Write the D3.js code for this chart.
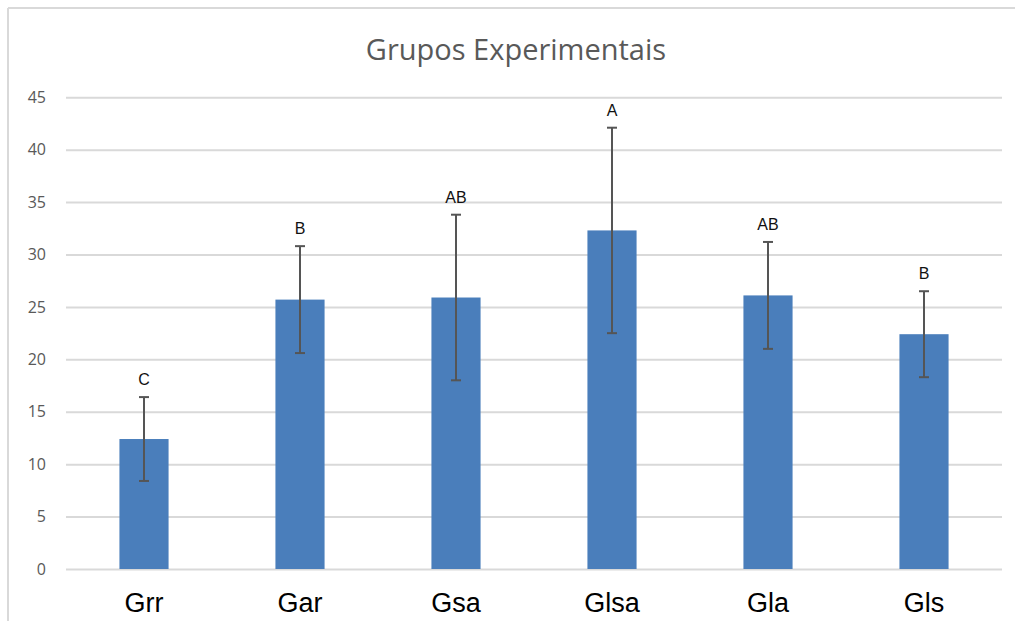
<!DOCTYPE html>
<html><head><meta charset="utf-8">
<script src="https://cdn.jsdelivr.net/npm/d3@7"></script>
<style>body{margin:0;background:#fff}svg{display:block}</style>
</head><body>
<script>
const categories = ["Grr","Gar","Gsa","Glsa","Gla","Gls"];
const means = [12.4, 25.7, 25.9, 32.3, 26.1, 22.4];
const errors = [4.0, 5.1, 7.9, 9.8, 5.1, 4.1];
const letters = ["C","B","AB","A","AB","B"];
const yTicks = [0,5,10,15,20,25,30,35,40,45];
const title = "Grupos Experimentais";

const W = 1015, H = 621;
const svg = d3.select("body").append("svg").attr("width", W).attr("height", H);

// frame
svg.append("line").attr("x1",8).attr("x2",W).attr("y1",8).attr("y2",8).attr("stroke","#d9d9d9").attr("stroke-width",2);
svg.append("line").attr("x1",8).attr("x2",8).attr("y1",8).attr("y2",H).attr("stroke","#d9d9d9").attr("stroke-width",2);

const x = d3.scaleBand().domain(categories).range([66,1002]).paddingInner(0.685).paddingOuter(0.3425);
const y = d3.scaleLinear().domain([0,45]).range([569,97.3]);

svg.append("text").attr("x",516).attr("y",60).attr("text-anchor","middle")
  .attr("font-family","Open Sans").attr("font-size",29).attr("fill","#595959").text(title);

// grid
const yAxis = d3.axisLeft(y).tickValues(yTicks).tickSize(-(1002-66)).tickPadding(20);
const gy = svg.append("g").attr("transform","translate(66,0)").call(yAxis);
gy.select(".domain").remove();
gy.selectAll(".tick line").attr("stroke","#d9d9d9").attr("stroke-width",2);
gy.selectAll(".tick text").attr("font-family","Open Sans").attr("font-size",16).attr("fill","#595959");

// bars
svg.selectAll("rect.bar").data(categories).join("rect").attr("class","bar")
  .attr("x",d=>x(d)).attr("width",x.bandwidth())
  .attr("y",(d,i)=>y(means[i])).attr("height",(d,i)=>y(0)-y(means[i]))
  .attr("fill","#4a7ebb");

// error bars
const eg = svg.append("g").attr("stroke","#555").attr("stroke-width",2);
categories.forEach((c,i)=>{
  const cx = x(c)+x.bandwidth()/2;
  eg.append("line").attr("x1",cx).attr("x2",cx).attr("y1",y(means[i]+errors[i])).attr("y2",y(means[i]-errors[i]));
  eg.append("line").attr("x1",cx-5).attr("x2",cx+5).attr("y1",y(means[i]+errors[i])).attr("y2",y(means[i]+errors[i]));
  eg.append("line").attr("x1",cx-5).attr("x2",cx+5).attr("y1",y(means[i]-errors[i])).attr("y2",y(means[i]-errors[i]));
  svg.append("text").attr("x",cx).attr("y",y(means[i]+errors[i])-12).attr("text-anchor","middle")
    .attr("font-family","Liberation Sans").attr("font-size",16).attr("fill","#111").text(letters[i]);
});

// x axis labels
const xAxis = d3.axisBottom(x).tickSize(0).tickPadding(0);
const gx = svg.append("g").attr("transform","translate(0,569)").call(xAxis);
gx.select(".domain").remove();
gx.selectAll(".tick text").attr("font-family","Liberation Sans").attr("font-size",27).attr("fill","#000")
  .attr("dy",null).attr("y",43);
</script>
</body></html>
